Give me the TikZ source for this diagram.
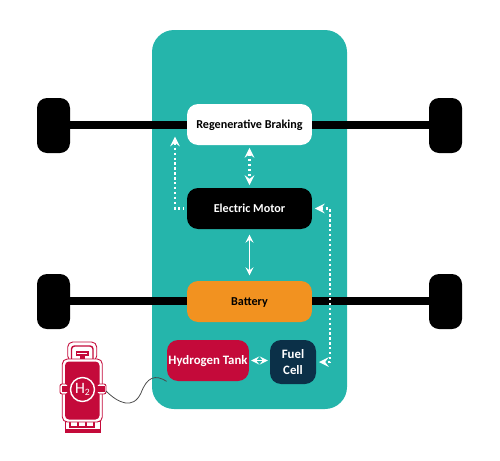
\documentclass[tikz,border=0pt]{standalone}
\usepackage{fontspec}
\setmainfont{Carlito}
\usepackage{tikz}
\usetikzlibrary{calc}

\definecolor{tealbg}{HTML}{25B5AB}
\definecolor{crimson}{HTML}{C40A3A}
\definecolor{amber}{HTML}{F29220}
\definecolor{navy}{HTML}{0B3048}

\tikzset{
  unitbox/.style={rounded corners=0.22cm, minimum width=2.5cm, minimum height=0.82cm, inner sep=0pt, font=\fontsize{6.9}{8.8}\selectfont\bfseries, align=center},
  unitline/.style={unitbox, text height=4.4pt, text depth=0pt},
  flowdot/.style={white, line width=1.4pt, dash pattern=on 1.3pt off 1.5pt, <->, >=stealth, shorten >=1.5pt, shorten <=1.5pt},
  flowline/.style={white, line width=1pt, <->, >=stealth, shorten >=3pt, shorten <=3pt},
  axle/.style={black, line width=4.6pt},
  wheel/.style={fill=black, rounded corners=0.2cm},
  tankrim/.style={draw=crimson, fill=white, line width=0.5pt}
}

\begin{document}
\begin{tikzpicture}[x=0.02cm, y=-0.02cm]
    \useasboundingbox (0, 0) rectangle (500, 460);

    % Chassis panel
    \fill[tealbg, rounded corners=0.44cm] (152, 30) rectangle (347, 409);

    % Axles and wheels
    \foreach \y in {125, 301} {
        \draw[axle] (55, \y) -- (445, \y);
        \fill[wheel] (37, \y-27) rectangle (70, \y+28);
        \fill[wheel] (429, \y-27) rectangle (462, \y+28);
    }

    % Drive units
    \node[unitline, fill=white, text=black] (regen) at (249.5, 124.5) {Regenerative Braking};
    \node[unitline, fill=black, text=white] (motor) at (249.5, 208.5) {Electric Motor};
    \node[unitline, fill=amber, text=black] (battery) at (249.5, 301.5) {Battery};
    \node[unitline, fill=crimson, text=white, minimum width=1.64cm, font=\fontsize{7.3}{8.8}\selectfont\bfseries] (hydrogen) at (208, 360.5) {Hydrogen Tank};
    \node[unitbox, fill=navy, text=white, minimum width=0.92cm, minimum height=0.88cm, font=\fontsize{7.3}{9.4}\selectfont\bfseries] (fuelcell) at (293, 362) {Fuel\\Cell};

    % Free ends of the dotted loops
    \coordinate (regenin) at (175, 134);
    \coordinate (fuelturn) at (330, 362);

    % Energy flows
    \draw[flowdot] (regen) -- (motor);
    \draw[flowdot, <-] (regenin) |- (motor.west);
    \draw[flowdot] (motor.east) -| (fuelturn) -- (fuelcell.east);
    \draw[flowline] (motor) -- (battery);
    \draw[flowline, shorten >=1pt, shorten <=1pt] (hydrogen) -- (hydrogen -| fuelcell.west);

    % Hydrogen cylinder
    \draw[tankrim, rounded corners=0.1cm] (67.7, 342) rectangle (96.7, 361);
    \draw[crimson, line width=0.8pt, rounded corners=0.06cm] (71.5, 361) -- (71.5, 346) -- (93, 346) -- (93, 361);
    \draw[crimson, line width=0.8pt] (76.7, 352) rectangle (88, 355);
    \fill[crimson] (80, 355) rectangle (85, 360);
    \draw[tankrim] (65, 421) rectangle (100, 432);
    \fill[crimson] (65.5, 428.5) rectangle (99.5, 431.5);
    \foreach \x in {70, 78, 86} {
        \draw[crimson, line width=0.7pt] (\x, 421) rectangle (\x+8, 427);
    }
    \draw[tankrim, rounded corners=0.1cm] (62.3, 359) rectangle (102.3, 422);
    \fill[crimson, rounded corners=0.08cm] (65, 361.5) rectangle (99.5, 419.5);
    \draw[tankrim, rounded corners=0.04cm] (60, 384) rectangle (68, 394);
    \draw[tankrim, rounded corners=0.04cm] (97, 384) rectangle (106, 394);
    \fill[crimson] (61.5, 386) rectangle (71, 392);
    \fill[crimson] (94, 386) rectangle (104.5, 392);
    \node[draw=white, fill=crimson, circle, line width=0.8pt, minimum size=0.48cm, inner sep=0pt, text=white, font=\fontsize{9}{10}\selectfont] (cylinder) at (82.5, 389.5) {H\raisebox{-0.3ex}{\fontsize{5.5}{6}\selectfont 2}};
    \coordinate (cylinderport) at (106, 391);

    % Filling hose
    \draw[black!70, line width=0.45pt] (cylinderport) .. controls (118, 403) and (133, 410) .. (141, 393) .. controls (147, 377) and (155, 374) .. (hydrogen.south west);
\end{tikzpicture}
\end{document}
